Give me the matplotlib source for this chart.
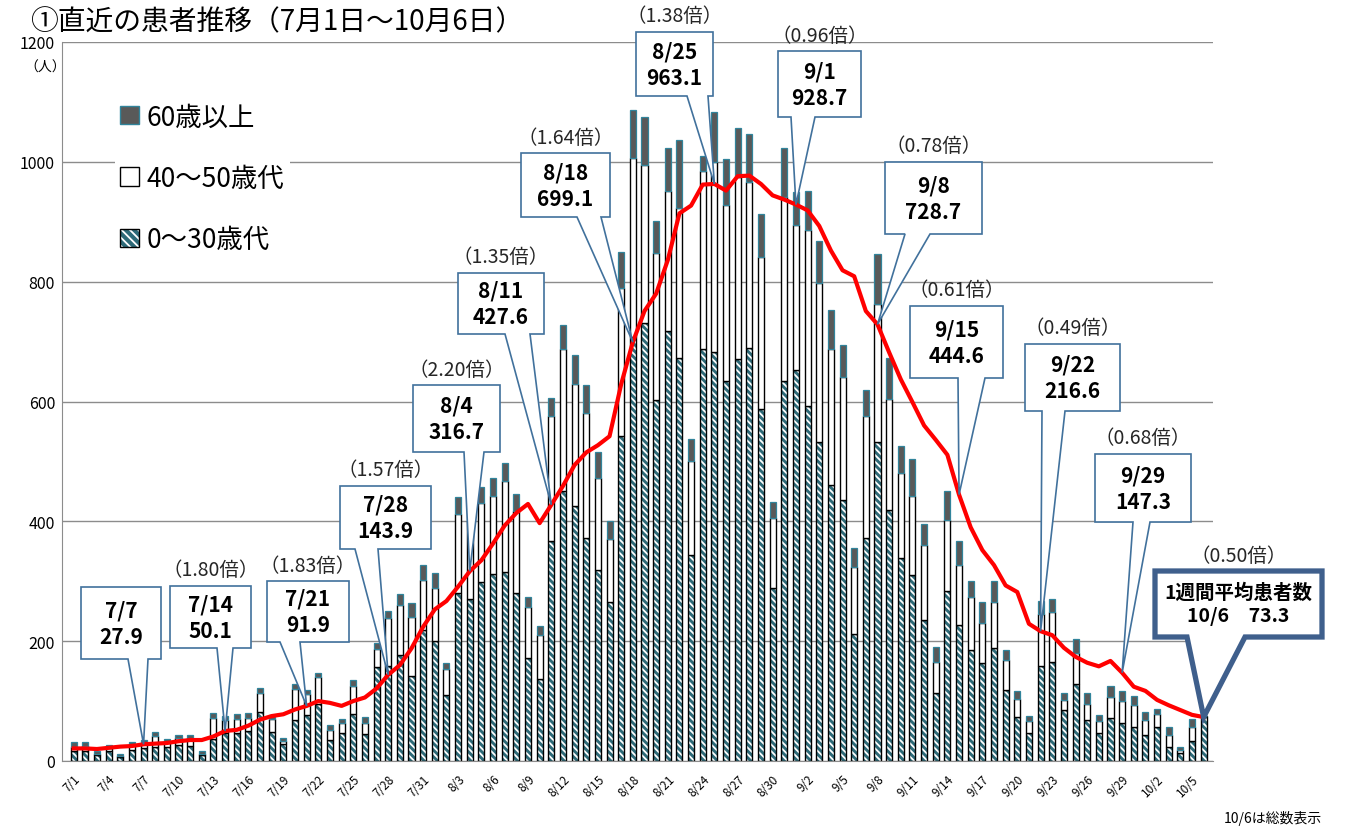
import matplotlib
matplotlib.use("Agg")
import matplotlib.pyplot as plt
from matplotlib.patches import Patch, Polygon
import pandas as pd

plt.rcParams['font.family'] = ['Noto Sans CJK JP', 'DejaVu Sans']
plt.rcParams['hatch.linewidth'] = 1.3

W, H = 1362, 829

dates = [f"{d.month}/{d.day}" for d in pd.date_range("2020-07-01", "2020-10-06")]

# 0〜30歳代
young = [16, 16, 10, 16, 7, 19, 21, 24, 24, 27, 25, 10, 37, 47, 47, 50, 81, 48, 28, 69,
         77, 95, 35, 46, 78, 45, 157, 159, 177, 142, 218, 201, 110, 280, 270, 298, 312, 316, 281, 172,
         137, 368, 451, 426, 372, 318, 266, 543, 708, 731, 602, 718, 672, 343, 687, 682, 635, 671, 690, 588,
         289, 634, 652, 593, 533, 460, 435, 212, 373, 533, 419, 338, 310, 235, 114, 284, 227, 186, 164, 188,
         118, 74, 47, 159, 165, 85, 129, 69, 47, 71, 63, 56, 43, 56, 24, 13, 33, 75]
# 40〜50歳代
middle = [8, 9, 2, 5, 2, 7, 9, 18, 8, 11, 13, 2, 35, 21, 23, 22, 33, 22, 6, 51,
          34, 46, 16, 17, 48, 19, 30, 80, 83, 99, 84, 87, 44, 133, 130, 133, 131, 152, 137, 85,
          73, 208, 237, 204, 208, 154, 104, 246, 298, 264, 246, 234, 251, 157, 298, 317, 293, 303, 276, 253,
          117, 308, 243, 294, 265, 227, 206, 111, 202, 229, 186, 142, 132, 125, 51, 118, 100, 88, 67, 78,
          50, 29, 20, 86, 83, 16, 52, 26, 19, 35, 37, 37, 25, 23, 19, 6, 24, 0]
# 60歳以上
senior = [7, 6, 4, 5, 3, 5, 5, 6, 5, 6, 5, 4, 8, 7, 8, 8, 8, 7, 4, 8,
          7, 6, 9, 7, 10, 9, 10, 12, 18, 22, 25, 25, 9, 27, 25, 27, 29, 30, 28, 16,
          16, 30, 39, 48, 47, 43, 30, 61, 80, 79, 54, 71, 113, 37, 25, 84, 77, 83, 81, 72,
          27, 81, 55, 64, 70, 66, 54, 33, 44, 85, 68, 45, 62, 36, 25, 48, 40, 26, 34, 34,
          18, 13, 8, 22, 23, 12, 23, 18, 11, 20, 17, 15, 13, 8, 14, 5, 13, 0]
# 1週間平均患者数
avg7 = [21, 21, 20, 22, 24, 25, 27.9, 29, 30, 33, 35, 35, 41, 50.1, 52, 59, 69, 75, 78, 86,
        91.9, 100, 97, 92, 100, 106, 121, 143.9, 160, 188, 224, 253, 267, 291, 316.7, 335, 363, 393, 414, 429,
        397, 427.6, 459, 494, 515, 527, 542, 629, 699.1, 751, 780, 836, 914, 927, 962, 963.1, 952, 976, 977, 963,
        944, 937, 928.7, 919, 893, 852, 819, 809, 751, 728.7, 682, 637, 599, 560, 536, 511, 444.6, 390, 352, 327,
        293, 282, 229, 216.6, 210, 189, 174, 164, 158, 167, 147.3, 124, 117, 102, 93, 85, 77, 73.3]

callout_dates = ['7/7', '7/14', '7/21', '7/28', '8/4', '8/11', '8/18', '8/25', '9/1', '9/8', '9/15', '9/22', '9/29']
callout_values = [27.9, 50.1, 91.9, 143.9, 316.7, 427.6, 699.1, 963.1, 928.7, 728.7, 444.6, 216.6, 147.3]
callout_ratios = ['', '1.80', '1.83', '1.57', '2.20', '1.35', '1.64', '1.38', '0.96', '0.78', '0.61', '0.49', '0.68']
latest_date, latest_value, latest_ratio = '10/6', 73.3, '0.50'

# box layout in pixels: x0, y0, x1, y1, wedge base left/right
boxes = [(81, 588, 161, 660, 128, 148), (170, 587, 251, 649, 217, 233),
         (267, 582, 349, 643, 280, 300), (340, 487, 431, 550, 355, 378),
         (413, 386, 500, 453, 464, 484), (458, 274, 544, 335, 505, 530),
         (521, 154, 610, 218, 577, 601), (636, 33, 713, 97, 687, 708),
         (778, 52, 861, 118, 791, 815), (885, 163, 982, 235, 905, 930),
         (910, 307, 1003, 379, 958, 985), (1025, 345, 1120, 412, 1042, 1065),
         (1095, 455, 1191, 523, 1133, 1150)]
latest_box = (1155, 572, 1322, 638, 1187, 1245)

TEAL = '#2D6A78'
GRAY = '#595959'
BOXEDGE = '#41719C'

fig = plt.figure(figsize=(W / 100, H / 100), dpi=100)
ax = fig.add_axes([62 / W, 1 - 762 / H, (1213 - 62) / W, (762 - 43) / H])

x = list(range(len(dates)))
bottom2 = [a + b for a, b in zip(young, middle)]
bw = 0.52

ax.bar(x, young, bw, color=TEAL, edgecolor='white', hatch='\\\\\\\\\\', linewidth=0, zorder=2)
ax.bar(x, young, bw, fill=False, edgecolor='black', linewidth=1.0, zorder=2)
ax.bar(x, middle, bw, bottom=young, color='white', edgecolor='black', linewidth=1.0, zorder=2)
ax.bar(x, senior, bw, bottom=bottom2, color=GRAY, edgecolor='#31849B', linewidth=0.9, zorder=2)
ax.plot(x, avg7, color='#FF0000', linewidth=3.0, zorder=3, solid_joinstyle='round')

ax.set_xlim(-1.0, 97.8)
ax.set_ylim(0, 1200)
ax.set_yticks(range(0, 1201, 200))
ax.set_xticks(x[::3])
ax.set_xticklabels(dates[::3], rotation=45, ha='right', va='top', rotation_mode='anchor', fontsize=8.5)
ax.tick_params(axis='both', length=0)
ax.tick_params(axis='y', labelsize=11.5, pad=5)
ax.tick_params(axis='x', pad=8)
ax.grid(axis='y', color='#8C8C8C', linewidth=1.0)
ax.set_axisbelow(True)
for s in ['top', 'right']:
    ax.spines[s].set_visible(False)
ax.spines['left'].set_color('#8C8C8C')
ax.spines['bottom'].set_color('#8C8C8C')

# legend
h_old = Patch(facecolor=GRAY, edgecolor='#31849B')
h_mid = Patch(facecolor='white', edgecolor='black')
h_young = (Patch(facecolor=TEAL, edgecolor='white', hatch='\\\\\\\\', linewidth=0),
           Patch(fill=False, edgecolor='black'))
leg = ax.legend([h_old, h_mid, h_young], ['60歳以上', '40～50歳代', '0～30歳代'],
                loc='upper left', bbox_to_anchor=(102 / W, 1 - 86 / H), bbox_transform=fig.transFigure,
                fontsize=19, frameon=True, facecolor='white', edgecolor='none', framealpha=1,
                handlelength=0.7, handleheight=0.7, handletextpad=0.3, labelspacing=1.3,
                borderpad=0.2)


def fig_pt(px, py):
    return (px / W, 1 - py / H)


def callout(box, tip_idx, tip_val, text, ratio, edge, lw, fs):
    x0, y0, x1, y1, bl, br = box
    tip = fig.transFigure.inverted().transform(ax.transData.transform((tip_idx, tip_val)))
    pts = [fig_pt(x0, y1), fig_pt(bl, y1), tuple(tip), fig_pt(br, y1),
           fig_pt(x1, y1), fig_pt(x1, y0), fig_pt(x0, y0)]
    poly = Polygon(pts, closed=True, transform=fig.transFigure, facecolor='white',
                   edgecolor=edge, linewidth=lw, zorder=6, clip_on=False, joinstyle='miter')
    ax.add_patch(poly)
    cx, cy = fig_pt((x0 + x1) / 2, (y0 + y1) / 2)
    ax.text(cx, cy, text, transform=fig.transFigure, ha='center', va='center',
            fontsize=fs, fontweight='bold', linespacing=1.3, zorder=7, clip_on=False)
    if ratio:
        rx, ry = fig_pt((x0 + x1) / 2, y0 - 16)
        ax.text(rx, ry, f'（{ratio}倍）', transform=fig.transFigure, ha='center', va='center',
                fontsize=14, color='#262626', zorder=7, clip_on=False)


for d, v, r, b in zip(callout_dates, callout_values, callout_ratios, boxes):
    callout(b, dates.index(d), v, f'{d}\n{v}', r, BOXEDGE, 1.2, 15)

callout(latest_box, dates.index(latest_date), latest_value,
        f'1週間平均患者数\n{latest_date}　{latest_value}', latest_ratio, '#3F5F8C', 3.8, 14)

fig.text(30 / W, 1 - 22 / H, '①直近の患者推移（7月1日～10月6日）', fontsize=20, ha='left', va='center')
fig.text(45 / W, 1 - 68 / H, '（人）', fontsize=10, ha='center', va='center')
fig.text(1322 / W, 1 - 819 / H, '10/6は総数表示', fontsize=10, ha='right', va='center')

fig.savefig('out.png', dpi=100)
